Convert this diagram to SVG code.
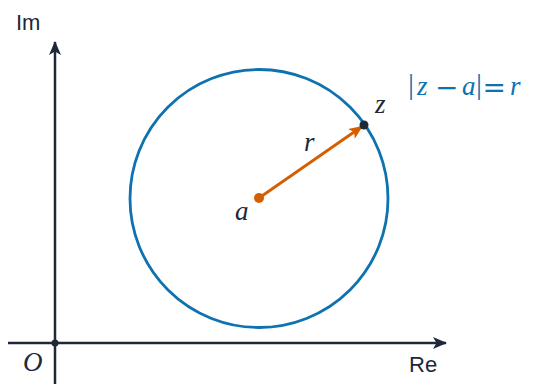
<svg xmlns="http://www.w3.org/2000/svg" width="533" height="385" viewBox="0 0 533 385">
<defs>
<style>
.axis{stroke:#1e2838;stroke-width:2.5;fill:none}
.sans{font-family:"Liberation Sans","DejaVu Sans",sans-serif;font-size:22px;fill:#1e2838}
.math{font-family:"Liberation Serif","DejaVu Serif",serif;font-style:italic;font-size:27px;fill:#1e2838}
.mathb{font-family:"Liberation Serif","DejaVu Serif",serif;font-size:27px;fill:#0e72b0}
.op{font-family:"DejaVu Serif",serif;font-style:normal;font-size:28px}
.bar{font-size:30px;font-style:normal}
.it{font-style:italic}
</style>
<marker id="ax" viewBox="0 0 14 12" refX="13" refY="6" markerWidth="14" markerHeight="12" markerUnits="userSpaceOnUse" orient="auto">
<path d="M0,0 L14,6 L0,12 L3.5,6 Z" fill="#1e2838"/>
</marker>
<marker id="or" viewBox="0 0 14 12" refX="13" refY="6" markerWidth="14" markerHeight="12" markerUnits="userSpaceOnUse" orient="auto">
<path d="M0,0 L14,6 L0,12 L3.5,6 Z" fill="#d45e00"/>
</marker>
</defs>
<rect width="533" height="385" fill="#ffffff"/>
<g id="connectors">
<line class="axis" x1="8" y1="343" x2="446" y2="343" marker-end="url(#ax)"/>
<line class="axis" x1="55" y1="384" x2="55" y2="42" marker-end="url(#ax)"/>
<line x1="259" y1="198" x2="362" y2="126.5" stroke="#d45e00" stroke-width="2.8" marker-end="url(#or)"/>
</g>
<g id="circle">
<circle cx="259" cy="198.5" r="129" fill="none" stroke="#0e72b0" stroke-width="2.8"/>
<text class="mathb"><tspan class="bar" x="408" y="94">|</tspan><tspan class="it" x="417" y="95">z</tspan><tspan class="op" x="435" y="97">−</tspan><tspan class="it" x="462" y="95">a</tspan><tspan class="bar" x="476" y="94">|</tspan><tspan class="op" x="482.5" y="97">=</tspan><tspan class="it" x="510" y="95">r</tspan></text>
</g>
<g id="origin">
<circle cx="55" cy="343" r="3.5" fill="#1e2838"/>
<text class="math" x="23" y="371">O</text>
</g>
<g id="center">
<circle cx="259" cy="198" r="5" fill="#d45e00"/>
<text class="math" x="235" y="220">a</text>
</g>
<g id="point-z">
<circle cx="364" cy="125" r="4.5" fill="#1e2838"/>
<text class="math" x="375" y="113">z</text>
</g>
<g id="radius-label">
<text class="math" x="304" y="151">r</text>
</g>
<g id="labels">
<text class="sans" x="16" y="30">Im</text>
<text class="sans" x="409" y="372">Re</text>
</g>
</svg>
